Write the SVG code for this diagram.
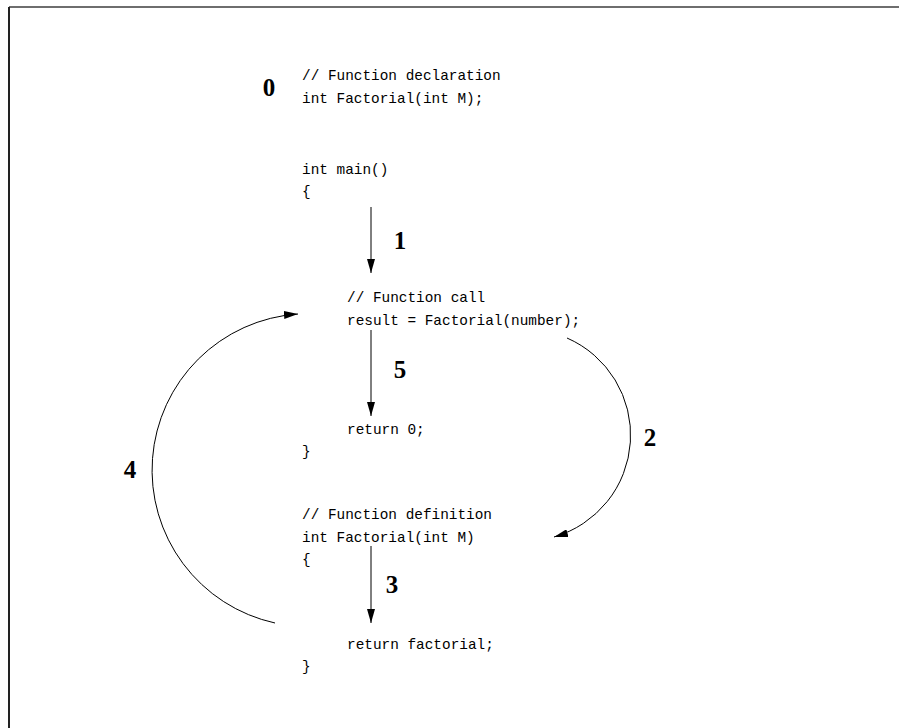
<svg xmlns="http://www.w3.org/2000/svg" width="899" height="728" viewBox="0 0 899 728">
<defs>
<marker id="ah" viewBox="0 0 14 8" refX="14" refY="4" markerWidth="14" markerHeight="8" markerUnits="userSpaceOnUse" orient="auto">
<path d="M0,0 L14,4 L0,8 Z" fill="#000"/>
</marker>
<style>
.code{font-family:"Liberation Mono","Courier New",monospace;font-size:14.4px;fill:#000}
.num{font-family:"Liberation Serif","Times New Roman",serif;font-size:25px;font-weight:bold;fill:#000;text-anchor:middle}
.edge{fill:none;stroke:#000;stroke-width:1;marker-end:url(#ah)}
</style>
</defs>
<rect width="899" height="728" fill="#fff"/>
<g id="frame">
<line x1="9" y1="7" x2="899" y2="7" stroke="#6e6e6e" stroke-width="2"/>
<line x1="9" y1="7" x2="9" y2="728" stroke="#222" stroke-width="2"/>
</g>
<g id="declaration">
<text class="code" x="302" y="80">// Function declaration</text>
<text class="code" x="302" y="103">int Factorial(int M);</text>
</g>
<g id="main">
<text class="code" x="302" y="174">int main()</text>
<text class="code" x="302" y="196">{</text>
</g>
<g id="call">
<text class="code" x="347" y="302">// Function call</text>
<text class="code" x="347" y="325">result = Factorial(number);</text>
</g>
<g id="return0">
<text class="code" x="347" y="434">return 0;</text>
<text class="code" x="302" y="456">}</text>
</g>
<g id="definition">
<text class="code" x="302" y="519">// Function definition</text>
<text class="code" x="302" y="542">int Factorial(int M)</text>
<text class="code" x="302" y="564">{</text>
</g>
<g id="returnfact">
<text class="code" x="347" y="649">return factorial;</text>
<text class="code" x="302" y="671">}</text>
</g>
<g id="connectors">
<line class="edge" x1="371" y1="207" x2="371" y2="273"/>
<line class="edge" x1="371" y1="330" x2="371" y2="416"/>
<line class="edge" x1="371" y1="546" x2="371" y2="623"/>
<path class="edge" d="M567,338 A106,106 0 0 1 554,537"/>
<path class="edge" d="M275,623 A156.5,156.5 0 0 1 298,314"/>
</g>
<g id="labels">
<text class="num" x="269" y="96">0</text>
<text class="num" x="400" y="249">1</text>
<text class="num" x="400" y="378">5</text>
<text class="num" x="130" y="478">4</text>
<text class="num" x="650" y="446">2</text>
<text class="num" x="392" y="593">3</text>
</g>
</svg>
